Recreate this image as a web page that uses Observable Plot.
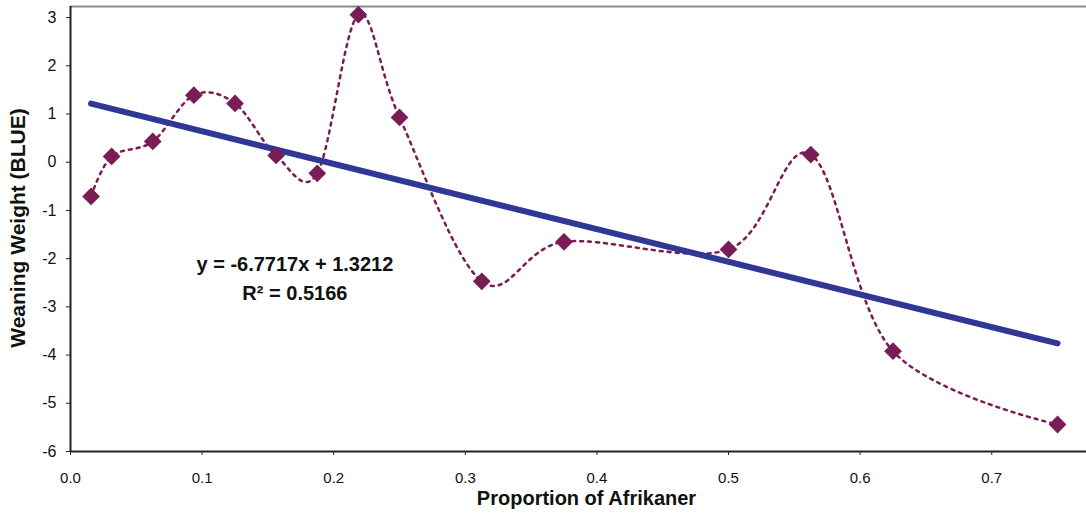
<!DOCTYPE html>
<html>
<head>
<meta charset="utf-8">
<script src="https://cdn.jsdelivr.net/npm/d3@7"></script>
<script src="https://cdn.jsdelivr.net/npm/@observablehq/plot@0.6"></script>
<style>
  html, body { margin: 0; padding: 0; background: #fff; }
  #chart svg { display: block; }
</style>
</head>
<body>
<div id="chart"></div>
<script>
// Data
const proportion = [0.015625, 0.03125, 0.0625, 0.09375, 0.125, 0.15625, 0.1875, 0.21875, 0.25, 0.3125, 0.375, 0.5, 0.5625, 0.625, 0.75];
const weaningWeight = [-0.71, 0.12, 0.43, 1.39, 1.22, 0.14, -0.23, 3.06, 0.93, -2.47, -1.65, -1.81, 0.16, -3.92, -5.44];

// Linear trend line end points (y = -6.7717x + 1.3212)
const trendX = [0.015625, 0.75];
const trendY = [1.215, -3.757];

const xTicks = [0, 0.1, 0.2, 0.3, 0.4, 0.5, 0.6, 0.7];
const yTicks = [-6, -5, -4, -3, -2, -1, 0, 1, 2, 3];
const xDomain = [0, 0.772];
const yDomain = [-6, 3.23];

const equationLines = ["y = -6.7717x + 1.3212", "R² = 0.5166"];
const equationX = [0.1705, 0.1705];
const equationY = [-2.12, -2.72];

const xLabel = "Proportion of Afrikaner";
const yLabel = "Weaning Weight (BLUE)";

const points = proportion.map((x, i) => ({x, y: weaningWeight[i]}));
const trend = trendX.map((x, i) => ({x, y: trendY[i]}));
const eq = equationLines.map((t, i) => ({t, x: equationX[i], y: equationY[i]}));

const pointColor = "#7a1c55";
const trendColor = "#2f3894";
const font = "'Liberation Sans', Arial, sans-serif";

const chart = Plot.plot({
  width: 1086,
  height: 517,
  marginLeft: 70,
  marginRight: 0,
  marginTop: 6,
  marginBottom: 66,
  style: {fontFamily: font, background: "#fff", color: "#111"},
  x: {domain: xDomain},
  y: {domain: yDomain},
  marks: [
    Plot.ruleY([yDomain[1]], {stroke: "#8a8a8a", strokeWidth: 2}),
    Plot.axisY({ticks: yTicks, tickSize: 4, tickPadding: 10, fontSize: 16, label: null, stroke: "#222", tickFormat: d => String(d)}),
    Plot.axisX({ticks: xTicks, tickSize: 4, tickPadding: 17, fontSize: 15, label: null, tickFormat: d => d.toFixed(1), stroke: "#222"}),
    Plot.ruleX([xDomain[0]], {stroke: "#222", strokeWidth: 2}),
    Plot.ruleY([yDomain[0]], {stroke: "#222", strokeWidth: 2}),
    Plot.line(points, {x: "x", y: "y", curve: "cardinal", tension: 0, stroke: pointColor, strokeWidth: 2.5, strokeDasharray: "3,5"}),
    Plot.line(trend, {x: "x", y: "y", stroke: trendColor, strokeWidth: 6, strokeLinecap: "round"}),
    Plot.dot(points, {x: "x", y: "y", symbol: "diamond2", r: 8, fill: pointColor, stroke: "none"}),
    Plot.text(eq, {x: "x", y: "y", text: "t", fontSize: 20, fontWeight: "bold", fill: "#111"}),
    Plot.text([xLabel], {frameAnchor: "bottom", textAnchor: "middle", dx: 8, dy: 53, fontSize: 20, fontWeight: "bold", fill: "#111"}),
    Plot.text([yLabel], {frameAnchor: "left", textAnchor: "middle", rotate: -90, dx: -52, dy: -1, fontSize: 21, fontWeight: "bold", fill: "#111"})
  ]
});
document.getElementById("chart").appendChild(chart);
</script>
</body>
</html>
